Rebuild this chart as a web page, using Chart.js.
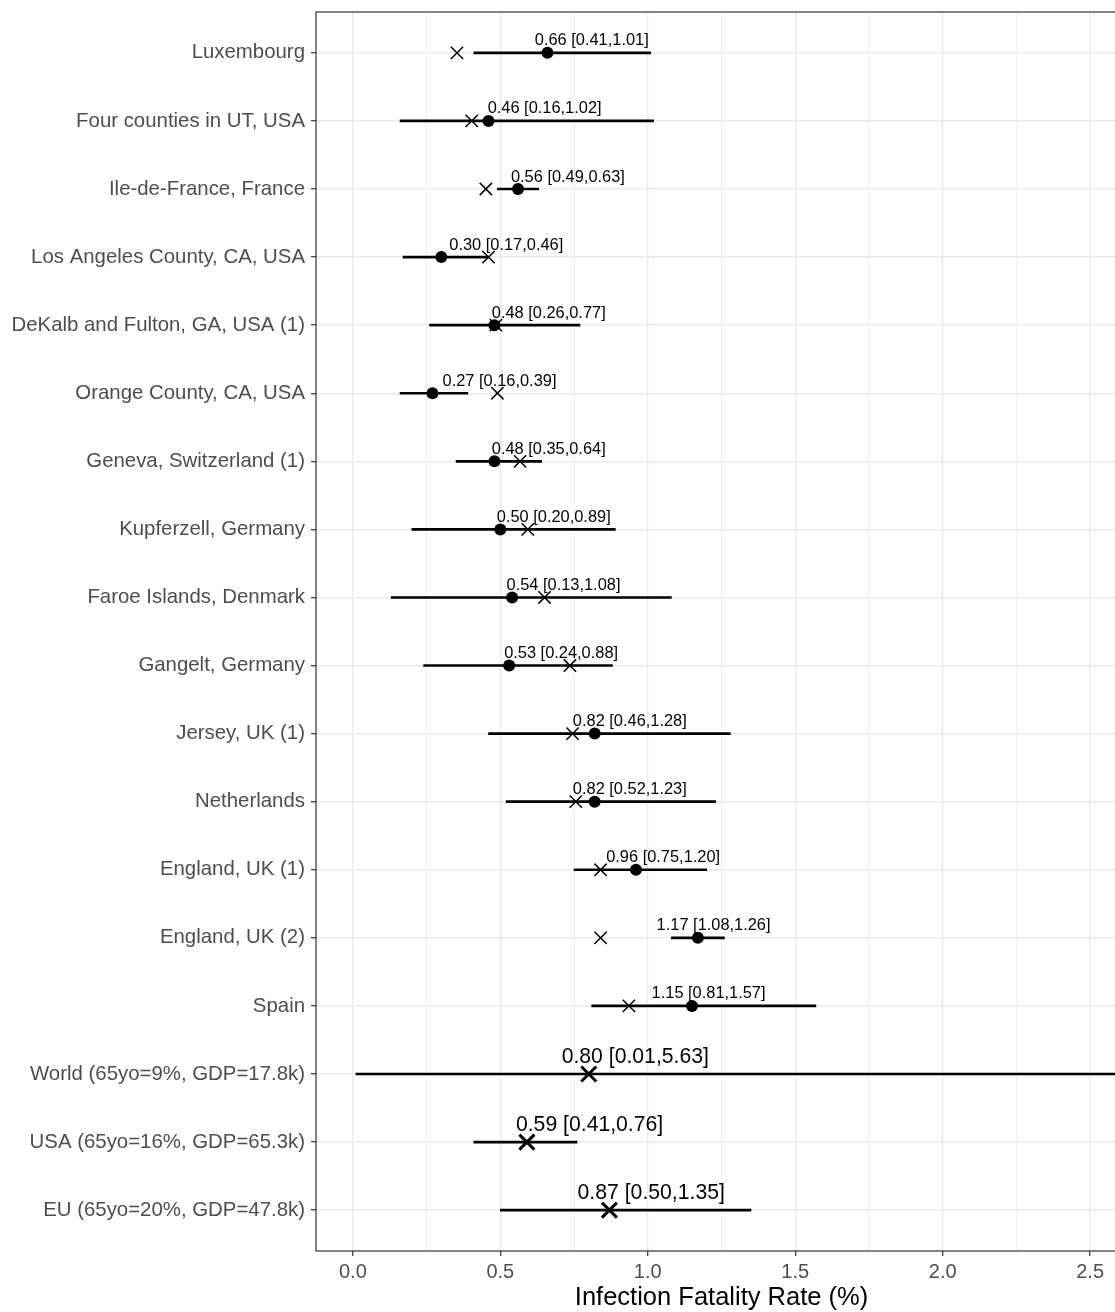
<!DOCTYPE html>
<html>
<head>
<meta charset="utf-8">
<script src="https://cdn.jsdelivr.net/npm/chart.js@4"></script>
<style>
  html, body { margin: 0; padding: 0; background: #fff; overflow: hidden; }
  #wrap { width: 1128px; height: 1312px; }
</style>
</head>
<body>
<div id="wrap"><canvas id="c" width="1128" height="1312" style="width:1128px;height:1312px"></canvas></div>
<script>
// ---- data ----
const categories = [
  "Luxembourg",
  "Four counties in UT, USA",
  "Ile-de-France, France",
  "Los Angeles County, CA, USA",
  "DeKalb and Fulton, GA, USA (1)",
  "Orange County, CA, USA",
  "Geneva, Switzerland (1)",
  "Kupferzell, Germany",
  "Faroe Islands, Denmark",
  "Gangelt, Germany",
  "Jersey, UK (1)",
  "Netherlands",
  "England, UK (1)",
  "England, UK (2)",
  "Spain",
  "World (65yo=9%, GDP=17.8k)",
  "USA (65yo=16%, GDP=65.3k)",
  "EU (65yo=20%, GDP=47.8k)"
];
const estimate = [0.66,0.46,0.56,0.30,0.48,0.27,0.48,0.50,0.54,0.53,0.82,0.82,0.96,1.17,1.15,0.80,0.59,0.87];
const lower    = [0.41,0.16,0.49,0.17,0.26,0.16,0.35,0.20,0.13,0.24,0.46,0.52,0.75,1.08,0.81,0.01,0.41,0.50];
const upper    = [1.01,1.02,0.63,0.46,0.77,0.39,0.64,0.89,1.08,0.88,1.28,1.23,1.20,1.26,1.57,5.63,0.76,1.35];
// model-predicted IFR (x markers) for the 15 studies
const predicted = [0.353,0.403,0.451,0.46,0.485,0.49,0.567,0.593,0.65,0.736,0.745,0.756,0.84,0.84,0.936];
const nStudies = 15;
// left edge of each annotation label, in axis units
const labelX = [0.617,0.457,0.536,0.327,0.471,0.304,0.471,0.488,0.521,0.513,0.746,0.746,0.859,1.03,1.013,0.708,0.553,0.762];
const xTicks = [0,0.25,0.5,0.75,1,1.25,1.5,1.75,2,2.25,2.5];
const xMin = -0.125, xMax = 2.625;
const xTitle = "Infection Fatality Rate (%)";

const FONT = "'Liberation Sans', Arial, Helvetica, sans-serif";

const fmt = v => v.toFixed(2);
const isMajor = v => Math.abs(v*2 - Math.round(v*2)) < 1e-6;

const errData = categories.map((c,i) => ({x:[lower[i], upper[i]], y:i}));
const dotData = estimate.slice(0,nStudies).map((v,i) => ({x:v, y:i}));
const predData = predicted.map((v,i) => ({x:v, y:i}));
const sumData = estimate.slice(nStudies).map((v,k) => ({x:v, y:nStudies+k}));

const frame = {
  id: 'frame',
  afterDatasetsDraw(chart) {
    const {ctx, chartArea:a, scales} = chart;
    ctx.save();
    ctx.fillStyle = '#000';
    ctx.textAlign = 'left';
    ctx.textBaseline = 'alphabetic';
    categories.forEach((c,i) => {
      const big = i >= nStudies;
      ctx.font = (big ? '21.2px ' : '16.4px ') + FONT;
      const txt = fmt(estimate[i]) + ' [' + fmt(lower[i]) + ',' + fmt(upper[i]) + ']';
      const x = scales.x.getPixelForValue(labelX[i]);
      const y = scales.y.getPixelForValue(i) - (big ? 11.5 : 7.5);
      ctx.fillText(txt, x, y);
    });
    ctx.strokeStyle = '#333333';
    ctx.lineWidth = 1.2;
    ctx.strokeRect(a.left, a.top, a.right - a.left, a.bottom - a.top);
    ctx.restore();
  }
};

new Chart(document.getElementById('c'), {
  type: 'bar',
  data: {
    datasets: [
      { type:'bar', data: errData, backgroundColor:'#000', borderWidth:0, barThickness:2, order:3 },
      { type:'scatter', data: dotData, pointStyle:'circle', pointRadius:6, backgroundColor:'#000', borderColor:'#000', borderWidth:0, order:2 },
      { type:'scatter', data: predData, pointStyle:'crossRot', pointRadius:8.7, borderColor:'#000', borderWidth:1.5, order:1 },
      { type:'scatter', data: sumData, pointStyle:'crossRot', pointRadius:10.6, borderColor:'#000', borderWidth:3, order:1 }
    ]
  },
  options: {
    indexAxis: 'y',
    responsive: false,
    animation: false,
    devicePixelRatio: 1,
    layout: { autoPadding: false, padding: { top: 12, left: 0, right: 1, bottom: 0 } },
    plugins: { legend: { display:false }, tooltip: { enabled:false } },
    scales: {
      x: {
        type: 'linear',
        min: xMin, max: xMax,
        offset: false,
        afterBuildTicks: ax => { ax.ticks = xTicks.map(v => ({value:v})); },
        afterFit: ax => { ax.height = 61; ax.paddingLeft = 0; ax.paddingRight = 0; },
        border: { display:false },
        grid: {
          offset: false,
          color: '#EBEBEB',
          lineWidth: ctx => (ctx.tick && isMajor(ctx.tick.value)) ? 1.4 : 0.8,
          tickColor: ctx => (ctx.tick && isMajor(ctx.tick.value)) ? '#333333' : 'rgba(0,0,0,0)',
          tickWidth: 1.2,
          tickLength: 5,
          drawTicks: true
        },
        ticks: {
          autoSkip: false,
          maxRotation: 0,
          padding: 4,
          color: '#4D4D4D',
          font: { family: FONT, size: 20 },
          callback: v => isMajor(v) ? Number(v).toFixed(1) : ''
        },
        title: {
          display: true,
          text: xTitle,
          color: '#000',
          font: { family: FONT, size: 25.5, lineHeight: 1.1 },
          padding: { top: 0, bottom: 0 }
        }
      },
      y: {
        type: 'linear',
        reverse: true,
        offset: false,
        min: -0.6, max: categories.length - 1 + 0.6,
        afterBuildTicks: ax => { ax.ticks = categories.map((c,i) => ({value:i})); },
        afterFit: ax => { ax.width = 316; ax.paddingTop = 0; ax.paddingBottom = 0; },
        border: { display:false },
        grid: {
          offset: false,
          color: '#EBEBEB',
          lineWidth: 1.4,
          tickColor: '#333333',
          tickWidth: 1.2,
          tickLength: 5,
          drawTicks: true
        },
        ticks: {
          autoSkip: false,
          padding: 6,
          color: '#4D4D4D',
          font: { family: FONT, size: 20.4 },
          callback: v => categories[v]
        }
      }
    }
  },
  plugins: [frame]
});
</script>
</body>
</html>
